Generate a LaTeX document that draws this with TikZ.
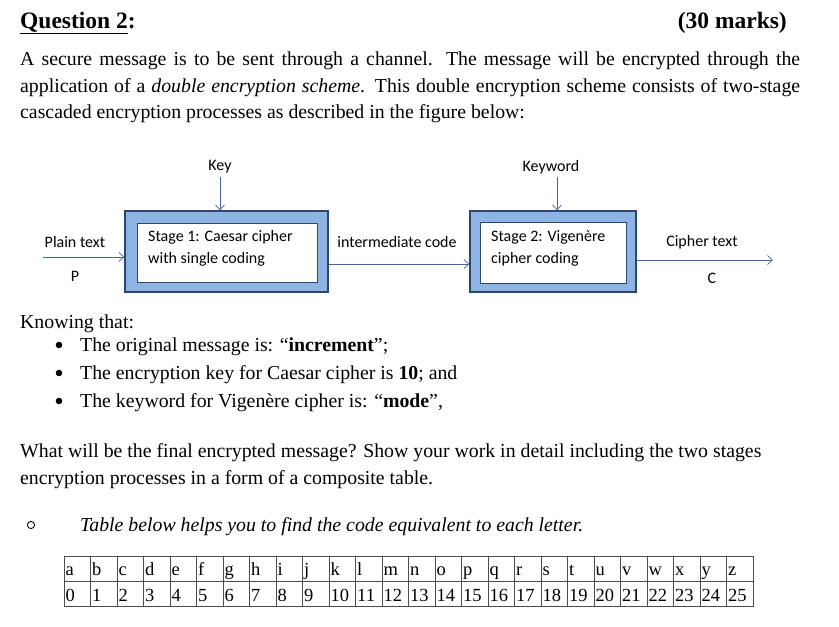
\documentclass[tikz,border=0pt]{standalone}
\usepackage{fontspec}
\setmainfont{Liberation Serif}
\newfontfamily\calfont{Carlito}
\usetikzlibrary{arrows.meta}
\definecolor{boxfill}{RGB}{141,180,226}
\definecolor{boxline}{RGB}{47,70,110}
\definecolor{arr}{RGB}{70,100,150}
\tikzset{
 txt/.style={anchor=base west,inner sep=0pt,font=\fontsize{19.8}{22}\selectfont},
 lab/.style={inner sep=0pt,font=\calfont\fontsize{16}{18}\selectfont},
 outerbox/.style={draw=boxline,line width=1.2pt,fill=boxfill,inner sep=0pt},
 innerbox/.style={draw=boxline,line width=0.6pt,fill=white,inner sep=0pt},
 flow/.style={draw=arr,line width=0.7pt,-{Straight Barb[length=5pt,width=9pt]}},
 cell/.style={draw=black!70,line width=0.5pt,minimum width=26.5pt,minimum height=25pt,inner sep=0pt,anchor=north west}
}
\begin{document}
\begin{tikzpicture}[x=1pt,y=-1pt]
\useasboundingbox (0,0) rectangle (839,627);
\node[txt,font=\bfseries\fontsize{23.5}{26}\selectfont] (q) at (20,28) {\underline{Question 2}:};
\node[txt,anchor=base east,font=\bfseries\fontsize{23.5}{26}\selectfont] (m) at (787,28) {(30 marks)};
\node[txt,anchor=north west,text width=780pt,align=justify,font=\fontsize{19.8}{26.5}\selectfont] (par) at (20,52) {A secure message is to be sent through a channel. The message will be encrypted through the application of a \textit{double encryption scheme}. This double encryption scheme consists of two-stage cascaded encryption processes as described in the figure below:};
% diagram
\node[outerbox,minimum width=203pt,minimum height=81pt] (b1) at (226.5,251.5) {};
\node[innerbox,minimum width=180pt,minimum height=59pt] (i1) at (227,252.5) {};
\node[lab,align=left,anchor=north west] (t1) at (148,230) {Stage 1: Caesar cipher\\[4pt]with single coding};
\node[outerbox,minimum width=166pt,minimum height=81pt] (b2) at (553,251.5) {};
\node[innerbox,minimum width=146pt,minimum height=61pt] (i2) at (553,252.5) {};
\node[lab,align=left,anchor=north west] (t2) at (491,230) {Stage 2: Vigenère\\[4pt]cipher coding};
\node[lab] (key) at (220,167) {Key};
\node[lab] (kw) at (551,167) {Keyword};
\draw[flow] (220,177) -- (b1.north -| 220,0);
\draw[flow] (557,177) -- (b2.north -| 557,0);
\node[lab] (pt) at (75,242) {Plain text};
\node[lab] (P) at (75,276) {P};
\coordinate (s) at (43,257);
\draw[flow] (s) -- (s -| b1.west);
\node[lab] (ic) at (397,242) {intermediate code};
\draw[flow] (b1.east |- 0,264) -- (b2.west |- 0,264);
\node[lab] (ct) at (702,242) {Cipher text};
\node[lab] (C) at (712,278) {C};
\coordinate (e) at (773,260);
\draw[flow] (b2.east |- e) -- (e);
% text
\node[txt] (k) at (20,328) {Knowing that:};
\foreach \y/\t in {351/{The original message is: “\textbf{increment}”;},379/{The encryption key for Caesar cipher is \textbf{10}; and},407/{The keyword for Vigenère cipher is: “\textbf{mode}”,}}{
 \fill (59,\y-6) circle (3.3pt);
 \node[txt] at (80,\y) {\t};
}
\node[txt] (w1) at (20,457) {What will be the final encrypted message? Show your work in detail including the two stages};
\node[txt] (w2) at (20,484) {encryption processes in a form of a composite table.};
\draw[line width=0.9pt] (31,525) circle (3.6pt);
\node[txt] (ti) at (80,531) {\textit{Table below helps you to find the code equivalent to each letter.}};
\foreach \l [count=\i from 0] in {a,b,c,d,e,f,g,h,i,j,k,l,m,n,o,p,q,r,s,t,u,v,w,x,y,z}{
 \node[cell] (l\i) at (63.5+26.5*\i,556) {};
 \node[anchor=base west,inner sep=0pt,font=\fontsize{18.5}{20}\selectfont] at (65.5+26.5*\i,575) {\l};
 \node[cell] (n\i) at (63.5+26.5*\i,581) {};
 \node[anchor=base west,inner sep=0pt,font=\fontsize{18.5}{20}\selectfont] at (65.5+26.5*\i,601) {\i};
}
\end{tikzpicture}
\end{document}
